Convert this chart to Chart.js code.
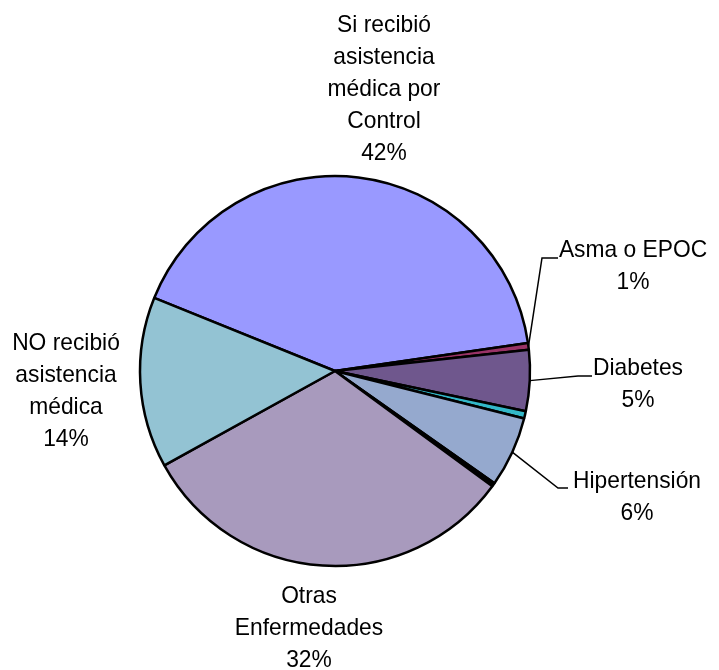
<!DOCTYPE html>
<html>
<head>
<meta charset="utf-8">
<script src="https://cdn.jsdelivr.net/npm/chart.js@4/dist/chart.umd.min.js"></script>
<style>
  html, body { margin: 0; padding: 0; background: #fff; }
  #wrap { width: 719px; height: 670px; }
</style>
</head>
<body>
<div id="wrap"><canvas id="chart-pie" width="719" height="670"></canvas></div>
<script>
// categories, clockwise from the "Control" slice
const categories = [
    'Si recibió asistencia médica por Control',
    'Asma o EPOC',
    'Diabetes',
    'Otra (sin etiqueta)',
    'Hipertensión',
    'Otra (sin etiqueta) 2',
    'Otras Enfermedades',
    'NO recibió asistencia médica',
];
const values = [41.6, 0.55, 5.05, 0.6, 5.85, 0.3, 31.9, 14.15];
const sliceColors = ['#9999ff', '#993366', '#6f578d', '#33b8c8', '#95a9ce', '#000000', '#a89abd', '#93c3d3'];

// label text lines (null = no label), percentage appended as last line
const labelLines = [
    ['Si recibió', 'asistencia', 'médica por', 'Control'],
    ['Asma o EPOC'],
    ['Diabetes'],
    null,
    ['Hipertensión'],
    null,
    ['Otras', 'Enfermedades'],
    ['NO recibió', 'asistencia', 'médica'],
];

// label placement relative to the pie centre: text centre x, first baseline y, optional leader
const labelPos = [
    { dx: 49, dy: -339 },
    { dx: 298, dy: -114, elbow: [207, -113], end: [223, -113] },
    { dx: 303, dy: 4, elbow: [243, 5], end: [257, 5] },
    null,
    { dx: 302, dy: 117, elbow: [223, 117], end: [233, 117] },
    null,
    { dx: -26, dy: 232 },
    { dx: -269, dy: -21 },
];

const pieLabels = {
    id: 'pieLabels',
    afterDraw(chart) {
        const ctx = chart.ctx;
        const meta = chart.getDatasetMeta(0);
        const total = values.reduce((a, b) => a + b, 0);
        ctx.save();
        ctx.fillStyle = '#000';
        ctx.strokeStyle = '#000';
        ctx.lineWidth = 1.5;
        meta.data.forEach((arc, i) => {
            const pos = labelPos[i];
            if (!pos || !labelLines[i]) return;
            const { x, y, startAngle, endAngle, outerRadius } = arc.getProps(['x', 'y', 'startAngle', 'endAngle', 'outerRadius'], true);
            if (pos.elbow) {
                const mid = (startAngle + endAngle) / 2;
                ctx.beginPath();
                ctx.moveTo(x + Math.cos(mid) * outerRadius, y + Math.sin(mid) * outerRadius);
                ctx.lineTo(x + pos.elbow[0], y + pos.elbow[1]);
                ctx.lineTo(x + pos.end[0], y + pos.end[1]);
                ctx.stroke();
            }
            const lines = labelLines[i].concat([Math.round(values[i] / total * 100) + '%']);
            lines.forEach((t, k) => {
                // text in the original is a touch narrower than plain Arial
                ctx.save();
                ctx.translate(x + pos.dx, y + pos.dy + k * 32);
                ctx.scale(0.95, 1);
                ctx.font = '24px "Liberation Sans", Arial, sans-serif';
                ctx.textAlign = 'center';
                ctx.textBaseline = 'alphabetic';
                ctx.fillText(t, 0, 0);
                ctx.restore();
            });
        });
        ctx.restore();
    },
};

new Chart(document.getElementById('chart-pie'), {
    type: 'pie',
    data: {
        labels: categories,
        datasets: [{
            data: values,
            backgroundColor: sliceColors,
            borderColor: '#000',
            borderWidth: 2.5,
        }],
    },
    options: {
        responsive: false,
        animation: false,
        rotation: -68,
        radius: 195,
        layout: { padding: { left: 0, right: 49, top: 72, bottom: 0 } },
        plugins: {
            legend: { display: false },
            tooltip: { enabled: false },
        },
    },
    plugins: [pieLabels],
});
</script>
</body>
</html>
